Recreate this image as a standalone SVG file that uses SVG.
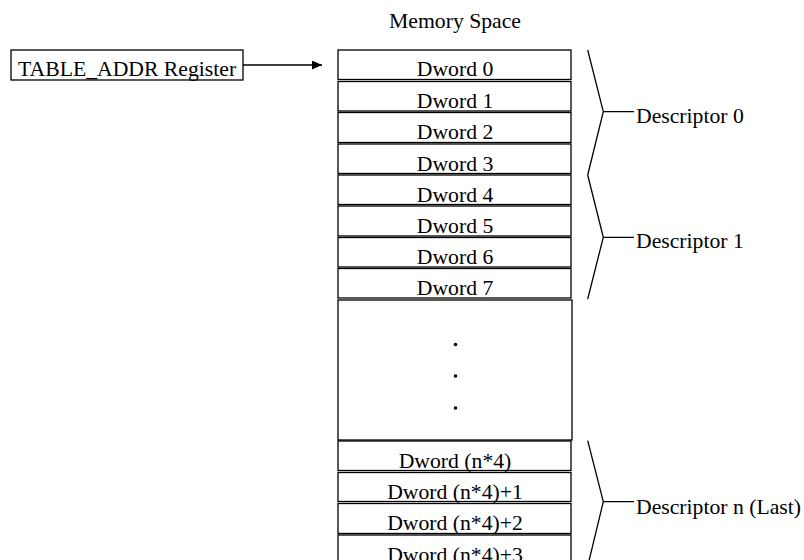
<svg xmlns="http://www.w3.org/2000/svg" width="804" height="560" viewBox="0 0 804 560">
<defs>
<style>
.b{fill:#fff;stroke:#000;stroke-width:1.3}
.t{font-family:"Liberation Serif","Times New Roman",serif;font-size:21.7px;fill:#000}
.m{text-anchor:middle}
.l{fill:none;stroke:#000;stroke-width:1.3}
</style>
<marker id="ah" markerWidth="10" markerHeight="9" refX="10" refY="4.5" orient="auto" markerUnits="userSpaceOnUse">
<path d="M0,0 L10,4.5 L0,9 Z" fill="#000"/>
</marker>
</defs>
<rect width="804" height="560" fill="#fff"/>
<text class="t m" x="455" y="28">Memory Space</text>
<g id="register">
<rect class="b" x="11" y="50" width="232" height="30"/>
<text class="t" x="18" y="76">TABLE_ADDR Register</text>
</g>
<g id="dword0"><rect class="b" x="338" y="50" width="233" height="29.5"/><text class="t m" x="455" y="76">Dword 0</text></g>
<g id="dword1"><rect class="b" x="338" y="81.5" width="233" height="29.5"/><text class="t m" x="455" y="107.5">Dword 1</text></g>
<g id="dword2"><rect class="b" x="338" y="112.5" width="233" height="30"/><text class="t m" x="455" y="139">Dword 2</text></g>
<g id="dword3"><rect class="b" x="338" y="144" width="233" height="29.5"/><text class="t m" x="455" y="170.5">Dword 3</text></g>
<g id="dword4"><rect class="b" x="338" y="175" width="233" height="29.5"/><text class="t m" x="455" y="201.5">Dword 4</text></g>
<g id="dword5"><rect class="b" x="338" y="206" width="233" height="30"/><text class="t m" x="455" y="232.5">Dword 5</text></g>
<g id="dword6"><rect class="b" x="338" y="237.5" width="233" height="29.5"/><text class="t m" x="455" y="264">Dword 6</text></g>
<g id="dword7"><rect class="b" x="338" y="268.5" width="233" height="29.5"/><text class="t m" x="455" y="295">Dword 7</text></g>
<g id="gap">
<rect class="b" x="338" y="300" width="234" height="140"/>
<circle cx="455.5" cy="344.5" r="1.8" fill="#000"/>
<circle cx="455.5" cy="376" r="1.8" fill="#000"/>
<circle cx="455.5" cy="408" r="1.8" fill="#000"/>
</g>
<g id="dwordn0"><rect class="b" x="338" y="441" width="233" height="29.5"/><text class="t m" x="455" y="467.5">Dword (n*4)</text></g>
<g id="dwordn1"><rect class="b" x="338" y="472.5" width="233" height="29"/><text class="t m" x="455" y="499">Dword (n*4)+1</text></g>
<g id="dwordn2"><rect class="b" x="338" y="503.5" width="233" height="30"/><text class="t m" x="455" y="530">Dword (n*4)+2</text></g>
<g id="dwordn3"><rect class="b" x="338" y="535" width="233" height="30"/><text class="t m" x="455" y="561.5">Dword (n*4)+3</text></g>
<g id="desc0">
<path class="l" d="M587.7,50 L603.3,111.7 L587.7,175 M603.3,111.7 H634"/>
<text class="t" x="636" y="122.5">Descriptor 0</text>
</g>
<g id="desc1">
<path class="l" d="M587.7,175 L603.3,237.3 L587.7,299 M603.3,237.3 H634"/>
<text class="t" x="636" y="248.3">Descriptor 1</text>
</g>
<g id="descn">
<path class="l" d="M587.7,440.7 L603.3,501.7 L588,565 M603.3,501.7 H634"/>
<text class="t" x="636" y="514">Descriptor n (Last)</text>
</g>
<g id="connectors">
<line class="l" x1="243" y1="65" x2="322" y2="65" marker-end="url(#ah)"/>
</g>
</svg>
